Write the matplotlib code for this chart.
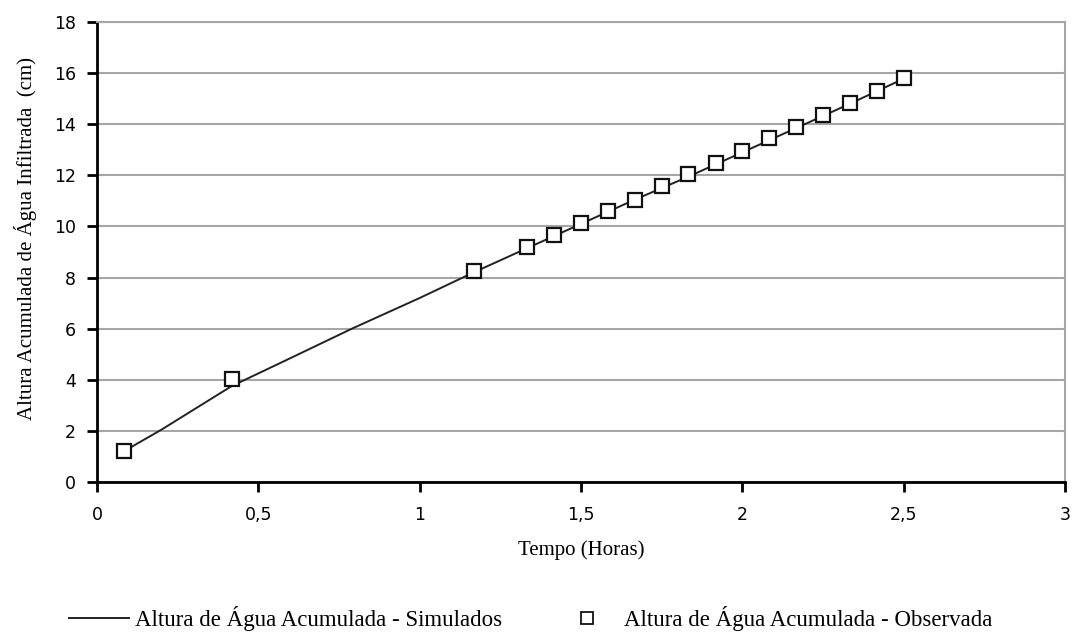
import matplotlib
matplotlib.use("Agg")
import matplotlib.pyplot as plt
from matplotlib.lines import Line2D

# Observed cumulative infiltration (cm) versus time (hours)
obs_time = [0.083, 0.417, 1.167, 1.333, 1.417, 1.5, 1.583, 1.667, 1.75,
            1.833, 1.917, 2.0, 2.083, 2.167, 2.25, 2.333, 2.417, 2.5]
obs_depth = [1.2, 4.05, 8.25, 9.2, 9.65, 10.15, 10.6, 11.05, 11.6,
             12.05, 12.5, 12.95, 13.45, 13.9, 14.35, 14.85, 15.3, 15.8]

# Simulated cumulative infiltration (cm)
sim_time = [0.083, 0.2, 0.417, 0.6, 0.79, 1.0, 1.167, 1.333, 1.5, 1.667,
            1.833, 2.0, 2.167, 2.333, 2.5]
sim_depth = [1.2, 2.05, 3.75, 4.85, 6.0, 7.2, 8.2, 9.15, 10.1, 11.05,
             11.95, 12.9, 13.85, 14.8, 15.78]

x_ticks = [0, 0.5, 1, 1.5, 2, 2.5, 3]
x_ticklabels = ["0", "0,5", "1", "1,5", "2", "2,5", "3"]
y_ticks = [0, 2, 4, 6, 8, 10, 12, 14, 16, 18]

serif = ["Liberation Serif", "DejaVu Serif"]
sans = ["DejaVu Sans"]

fig = plt.figure(figsize=(10.74, 6.38), dpi=100)
ax = fig.add_axes([0.0903, 0.2445, 0.9013, 0.721])

ax.plot(sim_time, sim_depth, color="#222222", lw=1.4, zorder=3)
ax.plot(obs_time, obs_depth, ls="none", marker="s", ms=10, mfc="white",
        mec="#111111", mew=1.6, zorder=4)

ax.set_xlim(0, 3)
ax.set_ylim(0, 18)
ax.set_xticks(x_ticks)
ax.set_xticklabels(x_ticklabels, family=sans, fontsize=12.5)
ax.set_yticks(y_ticks)
ax.set_yticklabels([str(v) for v in y_ticks], family=sans, fontsize=12.5)

ax.yaxis.grid(True, color="#a6a6a6", lw=1.5)
ax.set_axisbelow(True)
for side in ("left", "bottom"):
    ax.spines[side].set_color("black")
    ax.spines[side].set_linewidth(2)
ax.spines["right"].set_color("#a6a6a6")
ax.spines["right"].set_linewidth(1.5)
ax.spines["top"].set_color("#a6a6a6")
ax.spines["top"].set_linewidth(1.5)
ax.tick_params(direction="out", length=7, width=2, color="black", pad=10)
ax.tick_params(axis="y", pad=8)

ax.set_xlabel("Tempo (Horas)", family=serif, fontsize=15, labelpad=12)
ax.set_ylabel("Altura Acumulada de Água Infiltrada  (cm)", family=serif,
              fontsize=15)
ax.yaxis.set_label_coords(-0.062, 0.53)

handles = [
    Line2D([], [], color="#222222", lw=1.4),
    Line2D([], [], ls="none", marker="s", ms=8, mfc="white", mec="#111111",
           mew=1.3),
]
labels = ["Altura de Água Acumulada - Simulados",
          "Altura de Água Acumulada - Observada"]
fig.legend(handles, labels, loc="center left", bbox_to_anchor=(0.045, 0.03),
           ncol=2, frameon=False, prop={"family": serif, "size": 16.5},
           handlelength=2.6, handletextpad=0.3, columnspacing=2.4)

fig.savefig("out.png", dpi=100, facecolor="white")
